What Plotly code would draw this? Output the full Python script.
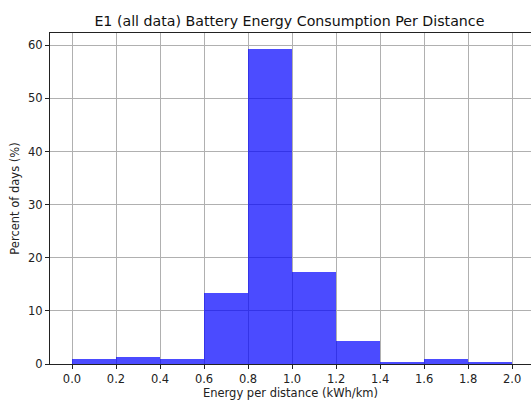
import plotly.graph_objects as go

# histogram bins (kWh/km) and share of days in each bin (%)
bin_starts = [0.0, 0.2, 0.4, 0.6, 0.8, 1.0, 1.2, 1.4, 1.6, 1.8]
bin_width = 0.2
percent_days = [0.88, 1.3, 0.88, 13.4, 59.3, 17.3, 4.3, 0.44, 0.88, 0.44]
tick_vals = [0.0, 0.2, 0.4, 0.6, 0.8, 1.0, 1.2, 1.4, 1.6, 1.8, 2.0]

font = "DejaVu Sans, Arial, sans-serif"

fig = go.Figure(go.Bar(
    x=[b + bin_width / 2 for b in bin_starts],
    y=percent_days,
    width=bin_width,
    marker=dict(color="blue", line=dict(width=0)),
    opacity=0.7,
))

axis_common = dict(
    showline=True, linecolor="#222", linewidth=1,
    showgrid=True, gridcolor="#b0b0b0", gridwidth=1,
    ticks="outside", ticklen=4, tickcolor="#222",
    tickfont=dict(family=font, size=11.5, color="#222"),
    zeroline=False,
)

# top spine via mirror; the right spine falls just outside the reference crop
fig.update_xaxes(
    range=[-0.1, 2.086], tickvals=tick_vals, mirror=True,
    ticktext=[f"{v:.1f}" for v in tick_vals],
    title=dict(text="Energy per distance (kWh/km)", font=dict(family=font, size=11.5, color="#222"), standoff=2),
    **axis_common,
)
fig.update_yaxes(
    range=[0, 62.3], tickvals=[0, 10, 20, 30, 40, 50, 60], mirror=False,
    title=dict(text="Percent of days (%)", font=dict(family=font, size=11.5, color="#222"), standoff=6),
    **axis_common,
)

fig.update_layout(
    width=531, height=401,
    margin=dict(l=50, r=0, t=33, b=37),
    plot_bgcolor="white", paper_bgcolor="white",
    bargap=0, showlegend=False,
    title=dict(text="E1 (all data) Battery Energy Consumption Per Distance",
               font=dict(family=font, size=14.2, color="#111"),
               x=0.545, xanchor="center", y=0.948, yanchor="middle"),
)

fig.write_html("out.html", config={"displayModeBar": False},
               post_script="document.body.style.margin='0';")
